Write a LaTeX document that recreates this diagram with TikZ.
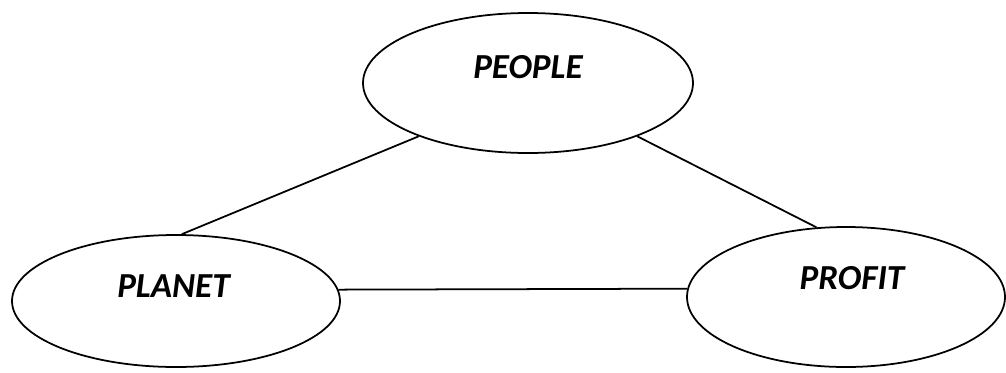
\documentclass[tikz,border=0pt]{standalone}
\usepackage{fontspec}
\setmainfont{Carlito}
\usepackage{tikz}
\usetikzlibrary{shapes.geometric}

\begin{document}
\begin{tikzpicture}[line width=1pt, font=\fontsize{20}{24}\selectfont\bfseries\itshape,
    pillar/.style={draw, ellipse, inner sep=0pt}]
        \useasboundingbox (0,0) rectangle (20.12,-7.44);
        % the three pillars
        \node[pillar, minimum width=6.6cm, minimum height=2.8cm] (people) at (10.56,-1.66) {};
        \node[pillar, minimum width=6.56cm, minimum height=2.64cm] (planet) at (3.52,-6.02) {};
        \node[pillar, minimum width=6.36cm, minimum height=2.8cm] (profit) at (16.92,-5.94) {};
        \node (peopletext) at ([yshift=0.32cm]people.center) {PEOPLE};
        \node (planettext) at ([xshift=-0.05cm, yshift=0.3cm]planet.center) {PLANET};
        \node (profittext) at ([xshift=0.12cm, yshift=0.38cm]profit.center) {PROFIT};
        % links
        \draw (people.206) -- (planet.85);
        \draw (people.334) -- (profit.113);
        \draw (planet.4) -- (profit.177);
      \end{tikzpicture}
\end{document}
